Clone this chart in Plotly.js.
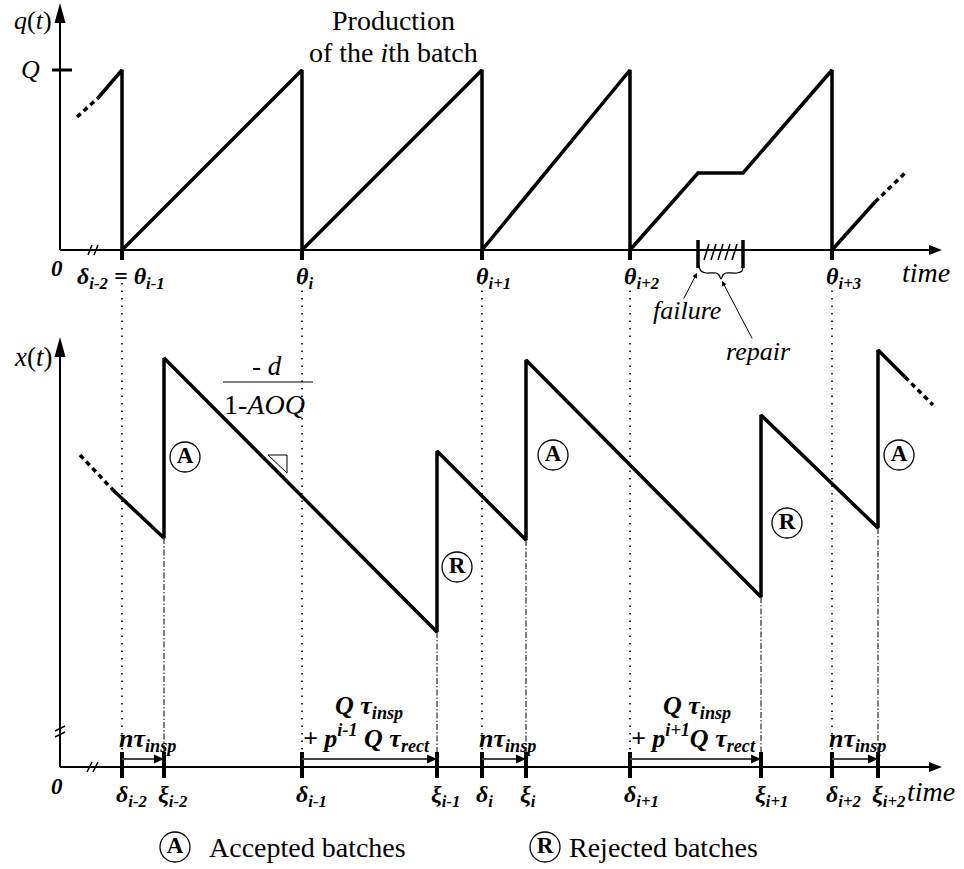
<!DOCTYPE html>
<html><head><meta charset="utf-8">
<script src="https://cdn.plot.ly/plotly-3.0.1.min.js"></script>
<style>html,body{margin:0;padding:0;background:#fff}#chart{width:964px;height:869px}</style>
</head><body><div id="chart"></div>
<script>
// ---------------- data (time units from origin "0"; q in items, Q = 180) ----------------
const Q = 180;
const thetaTimes = [62, 242, 422, 570, 772];           // θ_{i-1}..θ_{i+3}  (= δ_{i-2}..δ_{i+2})
const xiTimes    = [104, 377, 466, 701, 818];          // ξ_{i-2}..ξ_{i+2}
const thetaSubs  = ['i-1', 'i', 'i+1', 'i+2', 'i+3'];
const deltaSubs  = ['i-2', 'i-1', 'i', 'i+1', 'i+2'];
const xiSubs     = ['i-2', 'i-1', 'i', 'i+1', 'i+2'];
const batchStatus = ['A', 'R', 'A', 'R', 'A'];

// production q(t)
const qLeadT = [17, 38],  qLeadV = [133, 152];
const qTimes  = [38, 62, 62, 242, 242, 422, 422, 570, 570, 638, 683, 772, 772, 815];
const qValues = [152, 180, 0, 180, 0, 180, 0, 180, 0, 77, 77, 180, 0, 48];
const qTailT = [815, 845], qTailV = [48, 77];
const failureTime = 638, repairTime = 683;

// stock x(t)
const xLeadT = [20, 53],  xLeadV = [312, 277];
const xTimes  = [53, 104, 104, 377, 377, 466, 466, 701, 701, 818, 818, 845];
const xValues = [277, 229, 409, 135, 316, 227, 407, 170, 352, 239, 417, 390];
const xTailT = [845, 873], xTailV = [390, 362];

// ---------------- helpers ----------------
const W = 964, H = 869;
const FONT = '"Liberation Serif", "Times New Roman", Times, serif';
const P = (x, y) => ({x: x / W, y: 1 - y / H});
const bi = s => '<b><i>' + s + '</i></b>';
const sb = (g, s) => bi(g) + '<sub>' + bi(s) + '</sub>';
const traces = [];
function line(x, y, yaxis, width, dash, color, shape) {
  traces.push({type: 'scatter', mode: 'lines', x: x, y: y, xaxis: 'x', yaxis: yaxis,
    line: {color: color || '#000', width: width, dash: dash || 'solid', shape: shape || 'linear'},
    hoverinfo: 'skip', showlegend: false, cliponaxis: false});
}
function multi(pairs) {
  const x = [], y = [];
  pairs.forEach(p => { x.push(p[0], p[2], null); y.push(p[1], p[3], null); });
  return {x, y};
}
const shapes = [];
function head(tx, ty, dir, len, wid, yref, color) {
  let p;
  if (dir === 'up') p = `M${tx},${ty} L${tx - wid / 2},${ty - len} L${tx + wid / 2},${ty - len} Z`;
  else p = `M${tx},${ty} L${tx - len},${ty - wid / 2} L${tx - len},${ty + wid / 2} Z`;
  shapes.push({type: 'path', xref: 'x', yref: yref, path: p, fillcolor: color || '#000', line: {width: 0}});
}
const troughAt = t => xValues[xTimes.indexOf(t)];

// ---------------- top panel: q(t) ----------------
line([0, 0], [0, 230], 'y', 2);
head(0, 247, 'up', 20, 11, 'y');
line([0, 870], [0, 0], 'y', 2);
head(882, 0, 'right', 13, 10, 'y');
let m = multi([[28, -5, 32, 5], [34, -5, 38, 5]]); line(m.x, m.y, 'y', 1.5);
line([-8, 12], [Q, Q], 'y', 3);
line(qLeadT, qLeadV, 'y', 3.5, '5px,4px');
line(qTimes, qValues, 'y', 3.5);
line(qTailT, qTailV, 'y', 3.5, '5px,4px');
m = multi(thetaTimes.map(t => [t, 0, t, -10])); line(m.x, m.y, 'y', 4);
m = multi([[failureTime, 10, failureTime, -18], [repairTime, 10, repairTime, -18]]); line(m.x, m.y, 'y', 3.5);
m = multi([0, 1, 2, 3, 4].map(k => [failureTime + 6 + 7 * k, -10, failureTime + 11 + 7 * k, 6])); line(m.x, m.y, 'y', 1.5);
line([639, 641, 646, 656, 659, 661, 663, 666, 677, 682, 683], [-16, -21, -23, -23, -25, -29, -25, -23, -23, -21, -16], 'y', 1.2, 'solid', '#000', 'spline');

// ---------------- bottom panel: x(t) ----------------
line([0, 0], [0, 410], 'y2', 2);
head(0, 430, 'up', 20, 11, 'y2');
line([0, 870], [0, 0], 'y2', 2);
head(882, 0, 'right', 13, 10, 'y2');
m = multi([[-5, 30, 5, 35], [-5, 36, 5, 41]]); line(m.x, m.y, 'y2', 1.5);
m = multi([[27, -5, 32, 5], [33, -5, 38, 5]]); line(m.x, m.y, 'y2', 1.5);
m = multi(thetaTimes.map(t => [t, 484, t, 15])); line(m.x, m.y, 'y2', 1.6, '1.5px,6px');
m = multi(xiTimes.map(t => [t, troughAt(t), t, 15])); line(m.x, m.y, 'y2', 1, '6px,2px,1.5px,2px');
line(xLeadT, xLeadV, 'y2', 3.5, '5px,4px');
line(xTimes, xValues, 'y2', 3.5);
line(xTailT, xTailV, 'y2', 3.5, '5px,4px');
m = multi(thetaTimes.concat(xiTimes).map(t => [t, 15, t, -11])); line(m.x, m.y, 'y2', 4);
m = multi(thetaTimes.map((t, k) => [t, 8, xiTimes[k] - 9, 8])); line(m.x, m.y, 'y2', 2, 'solid', '#444');
xiTimes.forEach(t => head(t, 8, 'right', 10, 9, 'y2'));
line([208, 227, 227, 208], [312, 312, 294, 312], 'y2', 1);
line([163, 253], [385, 385], 'y2', 1.2);

const badgeT = [125, 397, 493, 727, 839, 115, 485];
const badgeV = [310, 200, 312, 244, 312, -80, -80];
traces.push({type: 'scatter', mode: 'markers+text', x: badgeT, y: badgeV, xaxis: 'x', yaxis: 'y2',
  text: batchStatus.concat(['A', 'R']).map(s => '<b>' + s + '</b>'), textposition: 'middle center',
  textfont: {family: FONT, size: 23, color: '#000'},
  marker: {symbol: 'circle', size: 30, color: 'rgba(0,0,0,0)', line: {color: '#000', width: 1.3}},
  hoverinfo: 'skip', showlegend: false, cliponaxis: false});

// ---------------- text ----------------
const ann = [];
function T(text, x, y, size, xanchor) {
  const p = P(x, y);
  ann.push({text: text, x: p.x, y: p.y, xref: 'paper', yref: 'paper', showarrow: false,
    xanchor: xanchor || 'center', yanchor: 'middle', font: {family: FONT, size: size || 24, color: '#000'}});
}
T('<i>q</i>(<i>t</i>)', 33, 20, 26);
T('<i>Q</i>', 30, 70, 26);
T(bi('0'), 57, 268, 23);
T('Production', 393, 20, 28);
T('of the <i>i</i>th batch', 393, 52, 28);
T(sb('δ', 'i-2') + bi(' = ') + sb('θ', 'i-1'), 121, 278, 24);
thetaTimes.slice(1).forEach((t, k) => T(sb('θ', thetaSubs[k + 1]), t + 60 - 8, 278, 24, 'left'));
T('<i>time</i>', 926, 272, 28);
T('<i>failure</i>', 687, 311, 26);
T('<i>repair</i>', 758, 351, 26);
T('<i>x</i>(<i>t</i>)', 33, 357, 27);
T('- <i>d</i>', 267, 366, 27);
T('1-<i>AOQ</i>', 264, 405, 28);
T(bi('0'), 57, 786, 23);
thetaTimes.forEach((t, k) => T(sb('δ', deltaSubs[k]), t + 60 - 8, 796, 24, 'left'));
xiTimes.forEach((t, k) => T(sb('ξ', xiSubs[k]), t + 60 - 8, 796, 24, 'left'));
T('<i>time</i>', 931, 791, 28);
[0, 2, 4].forEach(k => T(bi('n') + sb('τ', 'insp'), thetaTimes[k] + 60 - 5, 740, 26, 'left'));
[1, 3].forEach(k => {
  T(bi('Q') + ' ' + sb('τ', 'insp'), thetaTimes[k] + 60 + 31, 707, 26, 'left');
  T(bi('+ p') + '<sup>' + bi(k === 1 ? 'i-1' : 'i+1') + '</sup>' + (k === 1 ? ' ' : '') + bi('Q') + ' ' + sb('τ', 'rect'), thetaTimes[k] + 60 - 1, 738, 26, 'left');
});
T('Accepted batches', 207, 847, 28, 'left');
T('Rejected batches', 567, 847, 28, 'left');

function arrow(x, y, ax, ay) {
  ann.push({text: '', x: x, y: y, ax: ax, ay: ay, xref: 'x', yref: 'y', axref: 'x', ayref: 'y',
    showarrow: true, arrowhead: 2, arrowsize: 1, arrowwidth: 1, arrowcolor: '#000', standoff: 0});
}
arrow(637, -23, 623, -50);
arrow(662, -31, 693, -90);

const layout = {
  width: W, height: H, margin: {l: 0, r: 0, t: 0, b: 0},
  font: {family: FONT, size: 24, color: '#000'},
  paper_bgcolor: '#fff', plot_bgcolor: '#fff', showlegend: false,
  xaxis: {range: [-60, 904], visible: false, fixedrange: true},
  yaxis: {range: [-619, 250], visible: false, fixedrange: true},
  yaxis2: {range: [-102, 767], visible: false, fixedrange: true, overlaying: 'y'},
  shapes: shapes, annotations: ann
};
Plotly.newPlot('chart', traces, layout, {displayModeBar: false});
</script></body></html>
